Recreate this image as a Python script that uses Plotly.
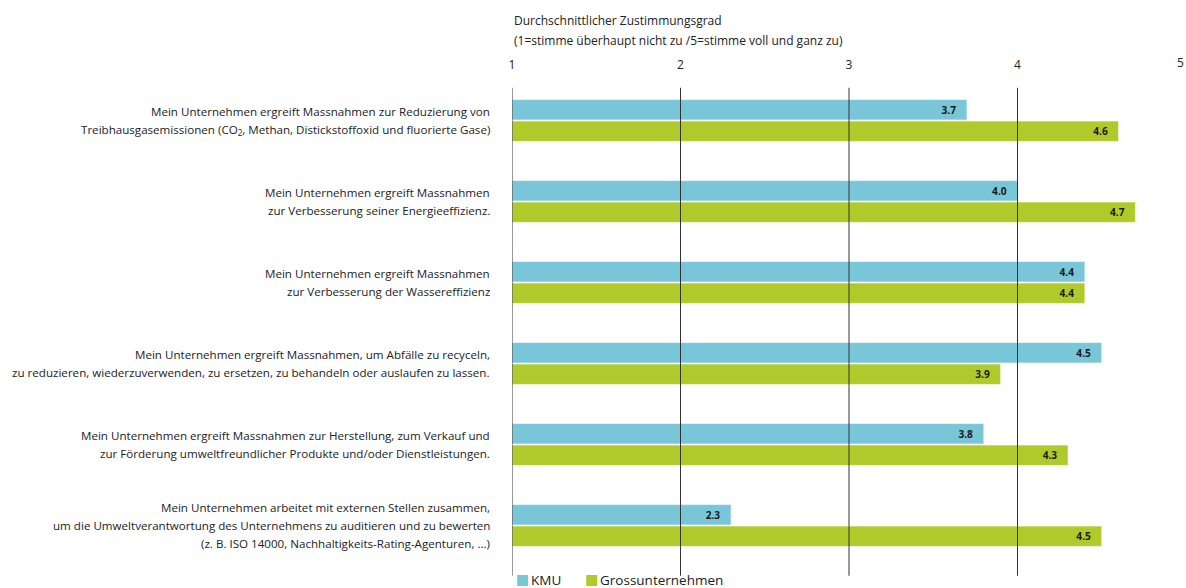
import plotly.graph_objects as go

categories = [
    "Mein Unternehmen ergreift Massnahmen zur Reduzierung von<br>Treibhausgasemissionen (CO<sub>2</sub>, Methan, Distickstoffoxid und fluorierte Gase)",
    "Mein Unternehmen ergreift Massnahmen<br>zur Verbesserung seiner Energieeffizienz.",
    "Mein Unternehmen ergreift Massnahmen<br>zur Verbesserung der Wassereffizienz",
    "Mein Unternehmen ergreift Massnahmen, um Abfälle zu recyceln,<br>zu reduzieren, wiederzuverwenden, zu ersetzen, zu behandeln oder auslaufen zu lassen.",
    "Mein Unternehmen ergreift Massnahmen zur Herstellung, zum Verkauf und<br>zur Förderung umweltfreundlicher Produkte und/oder Dienstleistungen.",
    "Mein Unternehmen arbeitet mit externen Stellen zusammen,<br>um die Umweltverantwortung des Unternehmens zu auditieren und zu bewerten<br>(z. B. ISO 14000, Nachhaltigkeits-Rating-Agenturen, ...)",
]
kmu = [3.7, 4.0, 4.4, 4.5, 3.8, 2.3]
gross = [4.6, 4.7, 4.4, 3.9, 4.3, 4.5]
x_ticks = [1, 2, 3, 4, 5]
series_names = ["KMU", "Grossunternehmen"]

FONT = "Open Sans"
BLUE = "#7AC6D9"
GREEN = "#AFCA2A"
TEXT = "#222222"
NBSP = "\u00a0"

y_idx = list(range(len(categories)))

fig = go.Figure()
for name, vals, color in zip(series_names, [kmu, gross], [BLUE, GREEN]):
    fig.add_trace(go.Bar(
        name=name, y=y_idx, x=[v - 1 for v in vals], base=1, orientation="h",
        marker=dict(color=color, line=dict(color="rgba(255,255,255,0.6)", width=1)),
        text=[f"{v:.1f}" + NBSP * 3 for v in vals], textposition="inside", insidetextanchor="end",
        textfont=dict(family=FONT, size=12, color="#1a1a1a", weight="bold"),
        hoverinfo="skip", showlegend=False,
    ))

# vertical reference lines drawn above the bars
for t in x_ticks[:-1]:
    fig.add_shape(type="line", xref="x", yref="paper", x0=t, x1=t, y0=-0.02, y1=0.984,
                  line=dict(color="#333333", width=1), layer="above")

# category labels, one annotation per line for an even line spacing
LINE_H = 18
for i, label in enumerate(categories):
    lines = label.split("<br>")
    n = len(lines)
    for j, line in enumerate(lines):
        fig.add_annotation(text=line, xref="paper", yref="y", x=0, y=i,
                           xanchor="right", yanchor="middle", xshift=-20,
                           yshift=-(j - (n - 1) / 2) * LINE_H, showarrow=False,
                           font=dict(family=FONT, size=11.6, color=TEXT))

# axis title above the scale
fig.add_annotation(text="Durchschnittlicher Zustimmungsgrad", xref="paper", yref="paper",
                   x=0, y=1.123, xanchor="left", yanchor="middle", showarrow=False,
                   font=dict(family=FONT, size=12, color=TEXT))
fig.add_annotation(text="(1=stimme überhaupt nicht zu /5=stimme voll und ganz zu)", xref="paper", yref="paper",
                   x=0, y=1.082, xanchor="left", yanchor="middle", showarrow=False,
                   font=dict(family=FONT, size=12, color=TEXT))
# last scale label sits at the right edge
fig.add_annotation(text=str(x_ticks[-1]), xref="paper", yref="paper",
                   x=1, y=1.037, xanchor="right", yanchor="middle", showarrow=False,
                   font=dict(family=FONT, size=12, color=TEXT))

# legend swatches and names below the chart
legend_items = [(series_names[0], BLUE, 0.0077, 0.0240), (series_names[1], GREEN, 0.1101, 0.1264)]
for name, color, x0, x1 in legend_items:
    fig.add_shape(type="rect", xref="paper", yref="paper", x0=x0, x1=x1,
                  y0=-0.0412, y1=-0.0185, fillcolor=color, line=dict(width=0))
    fig.add_annotation(text=name, xref="paper", yref="paper", x=x1, y=-0.0298,
                       xanchor="left", yanchor="middle", xshift=1, showarrow=False,
                       font=dict(family=FONT, size=13.5, color=TEXT))

fig.update_layout(
    width=1186, height=588,
    margin=dict(l=512, r=0, t=80, b=22, autoexpand=False),
    paper_bgcolor="white", plot_bgcolor="white",
    barmode="group", bargap=0.47, bargroupgap=0.05,
    font=dict(family=FONT, size=12, color=TEXT),
    xaxis=dict(range=[1, 5], side="top", tickvals=x_ticks[:-1], ticktext=[str(t) for t in x_ticks[:-1]],
               showgrid=False, zeroline=False, showline=False, ticks="",
               ticklabelstandoff=8, tickfont=dict(size=12, color=TEXT)),
    yaxis=dict(range=[5.5, -0.5], tickvals=y_idx, showticklabels=False,
               showgrid=False, zeroline=False, showline=False, ticks=""),
    showlegend=False,
)

fig.write_html("out.html")
